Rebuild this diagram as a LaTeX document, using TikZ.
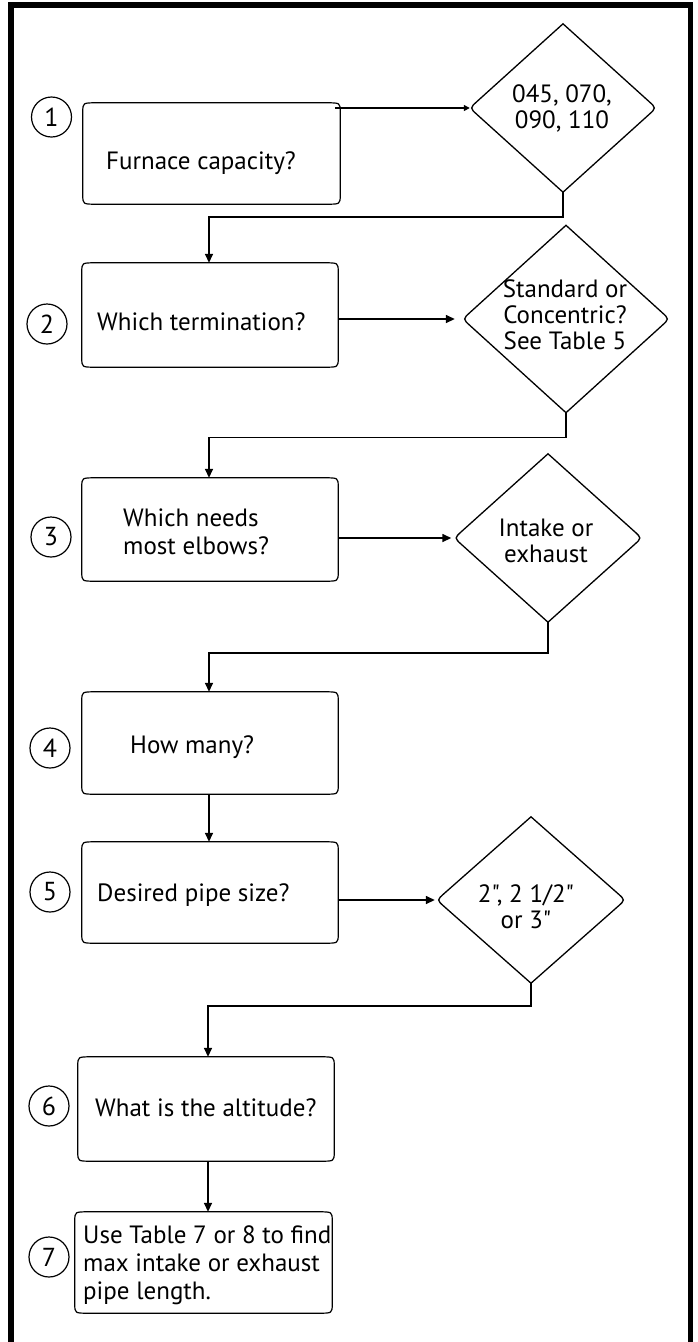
\documentclass[tikz,border=0pt]{standalone}
\usepackage{fontspec}
\setmainfont{PT Sans}[Ligatures=TeXOff]
\usetikzlibrary{arrows.meta,calc}
\tikzset{
  frame/.style={line width=5.5pt,line join=miter},
  shapebox/.style={rectangle,inner sep=0pt,draw=none},
  boxline/.style={line width=1.2pt},
  dline/.style={line width=1.3pt},
  conn/.style={line width=1.5pt,-{Triangle[length=9pt,width=8pt]}},
  connsmall/.style={line width=1.5pt,-{Triangle[length=6pt,width=6pt]}},
  txt/.style={inner sep=0pt,font=\fontsize{25}{28}\selectfont},
  dtxt/.style={inner sep=0pt,align=center,font=\fontsize{25}{26}\selectfont},
  numc/.style={circle,draw,line width=1.2pt,minimum size=40pt,inner sep=0pt,font=\fontsize{26}{28}\selectfont}
}
\newcommand{\rbox}[1]{%
  \draw[boxline] ([xshift=14pt]#1.north west) -- ([xshift=-14pt]#1.north east)
    .. controls (#1.north east) .. ([yshift=-9pt]#1.north east)
    -- ([yshift=9pt]#1.south east)
    .. controls (#1.south east) .. ([xshift=-14pt]#1.south east)
    -- ([xshift=14pt]#1.south west)
    .. controls (#1.south west) .. ([yshift=9pt]#1.south west)
    -- ([yshift=-9pt]#1.north west)
    .. controls (#1.north west) .. cycle;}
\newcommand{\rdiam}[1]{%
  \draw[dline] (#1.north) -- ($(#1.west)!10pt!(#1.north)$)
    .. controls (#1.west) .. ($(#1.west)!10pt!(#1.south)$)
    -- (#1.south) -- ($(#1.east)!10pt!(#1.south)$)
    .. controls (#1.east) .. ($(#1.east)!10pt!(#1.north)$)
    -- cycle;}
\begin{document}
\begin{tikzpicture}[x=1pt,y=-1pt]
\useasboundingbox (0,0) rectangle (697,1342);
% frame
\draw[frame] (11,1342) -- (11,5) -- (690.5,5) -- (690.5,1342);

% boxes
\node[shapebox,minimum width=257pt,minimum height=101pt] (b1) at (211.5,153.5) {};
\node[shapebox,minimum width=256pt,minimum height=104pt] (b2) at (210,315) {};
\node[shapebox,minimum width=256pt,minimum height=103pt] (b3) at (210,529.5) {};
\node[shapebox,minimum width=256pt,minimum height=102pt] (b4) at (210,743) {};
\node[shapebox,minimum width=256pt,minimum height=101pt] (b5) at (210,892.5) {};
\node[shapebox,minimum width=256pt,minimum height=104pt] (b6) at (206,1109) {};
\node[shapebox,minimum width=257pt,minimum height=101pt] (b7) at (203.5,1262.5) {};
\rbox{b1}\rbox{b2}\rbox{b3}\rbox{b4}\rbox{b5}\rbox{b6}\rbox{b7}

% box texts
\node[txt,anchor=base west] (t1) at (106,169) {Furnace capacity?};
\node[txt,anchor=base west] (t2) at (97,330) {Which termination?};
\node[txt,anchor=base west,align=left] (t3) at (123,554) {Which needs\\most elbows?};
\node[txt,anchor=base west] (t4) at (130,753) {How many?};
\node[txt,anchor=base west] (t5) at (97,901) {Desired pipe size?};
\node[txt,anchor=base west] (t6) at (95,1116) {What is the altitude?};
\node[txt,anchor=base west,align=left] (t7) at (83,1299) {Use Table 7 or 8 to find\\max intake or exhaust\\pipe length.};

% diamonds
\node[shapebox,minimum width=186pt,minimum height=168pt] (d1) at (563,108) {};
\node[shapebox,minimum width=206pt,minimum height=187pt] (d2) at (566,319) {};
\node[shapebox,minimum width=187pt,minimum height=168pt] (d3) at (548,538) {};
\node[shapebox,minimum width=188pt,minimum height=166pt] (d4) at (531,900) {};
\rdiam{d1}\rdiam{d2}\rdiam{d3}\rdiam{d4}

\node[dtxt,anchor=base] (dt1) at (562,128) {045, 070,\\090, 110};
\node[dtxt,anchor=base] (dt2) at (565,349) {Standard or\\Concentric?\\See Table 5};
\node[dtxt,anchor=base] (dt3) at (546,562) {Intake or\\exhaust};
\node[dtxt,anchor=base] (dt4) at (526,928) {2", 2 1/2"\\or 3"};

% number circles
\node[numc] (c1) at (51.5,117) {1};
\node[numc] (c2) at (47,324) {2};
\node[numc] (c3) at (51,537) {3};
\node[numc] (c4) at (50,748) {4};
\node[numc] (c5) at (50,892) {5};
\node[numc] (c6) at (49,1106) {6};
\node[numc] (c7) at (49,1257) {7};

% connectors
\draw[connsmall] ([xshift=-5pt]b1.east |- d1.west) -- (d1.west);
\draw[conn] (d1.south) -- ++(0,25) -| ([xshift=-1pt]b2.north);
\draw[conn] (b2.east |- d2.west) -- ([xshift=-8pt]d2.west);
\draw[conn] (d2.south) -- ++(0,25) -| ([xshift=-1pt]b3.north);
\draw[conn] (b3.east |- d3.west) -- ([xshift=-3pt]d3.west);
\draw[conn] (d3.south) -- ++(0,31) -| ([xshift=-1pt]b4.north);
\draw[conn] ([xshift=-1pt]b4.south) -- ([xshift=-1pt]b5.north);
\draw[conn] (b5.east |- d4.west) -- ([xshift=-2pt]d4.west);
\draw[conn] (d4.south) -- ++(0,23) -| ([xshift=2pt]b6.north);
\draw[conn] ([xshift=2pt]b6.south) -- ([xshift=2pt]b6.south |- b7.north);
\end{tikzpicture}
\end{document}
